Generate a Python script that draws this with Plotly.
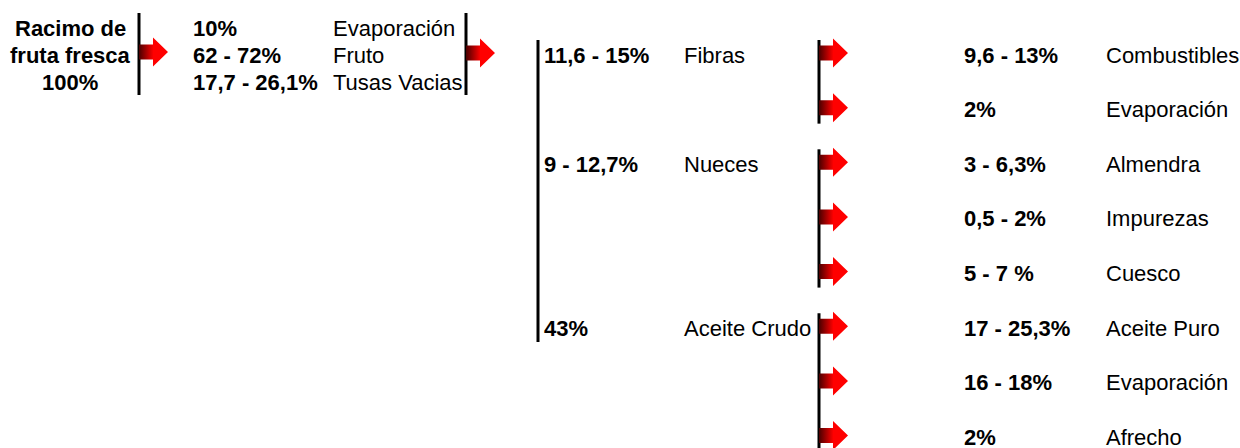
import plotly.graph_objects as go

# ---------------- data ----------------
stage1_text = ["Racimo de", "fruta fresca", "100%"]
stage2_pct = ["10%", "62 - 72%", "17,7 - 26,1%"]
stage2_labels = ["Evaporación", "Fruto", "Tusas Vacias"]
stage3_pct = ["11,6 - 15%", "9 - 12,7%", "43%"]
stage3_labels = ["Fibras", "Nueces", "Aceite Crudo"]
stage4_pct = ["9,6 - 13%", "2%", "3 - 6,3%", "0,5 - 2%", "5 - 7 %",
              "17 - 25,3%", "16 - 18%", "2%"]
stage4_labels = ["Combustibles", "Evaporación", "Almendra", "Impurezas", "Cuesco",
                 "Aceite Puro", "Evaporación", "Afrecho"]
stage4_parent = [0, 0, 1, 1, 1, 2, 2, 2]

# ---------------- layout constants ----------------
W, H = 1240, 448
FONT = "Liberation Sans, Arial, sans-serif"
FS = 22
ROW0, ROWSTEP = 55, 54.65
TOP_ROWS = [28, 55, 82]

def row_y(i):
    return ROW0 + ROWSTEP * i

fig = go.Figure()
annotations = []
shapes = []

def text(x, y, s, bold=False, anchor="left"):
    annotations.append(dict(
        x=x, y=y, xref="x", yref="y", text=f"<b>{s}</b>" if bold else s,
        showarrow=False, xanchor=anchor, yanchor="middle", borderpad=0,
        font=dict(family=FONT, size=FS, color="black")))

def vline(x, y0, y1):
    shapes.append(dict(type="line", x0=x, x1=x, y0=y0, y1=y1, xref="x", yref="y",
                       line=dict(color="black", width=3), layer="below"))

def arrow(x0, yc):
    xs, tip = x0 + 14, x0 + 29
    sh, hh = 7.5, 14.5
    xsv = [x0, xs, xs, tip, xs, xs, x0, x0]
    ysv = [yc - sh, yc - sh, yc - hh, yc, yc + hh, yc + sh, yc + sh, yc - sh]
    fig.add_trace(go.Scatter(
        x=xsv, y=ysv, mode="none", fill="toself",
        fillgradient=dict(type="horizontal",
                          colorscale=[[0, "#4a0000"], [0.5, "#ff0000"], [1, "#ff0000"]]),
        hoverinfo="skip", showlegend=False))

# stage 1
for i, s in enumerate(stage1_text):
    text(70, TOP_ROWS[i], s, bold=True, anchor="center")
vline(139, 13, 95)
arrow(139, 52)

# stage 2
for i in range(len(stage2_pct)):
    text(192, TOP_ROWS[i], stage2_pct[i], bold=True)
    text(332, TOP_ROWS[i], stage2_labels[i])
vline(466, 13, 95)
arrow(466, 53)

# stage 3
child_rows = {}
for k, p in enumerate(stage4_parent):
    child_rows.setdefault(p, []).append(k)
vline(538, 40, 342)
for p in range(len(stage3_pct)):
    first = child_rows[p][0]
    text(543, row_y(first), stage3_pct[p], bold=True)
    text(683, row_y(first), stage3_labels[p])
    rows = child_rows[p]
    vline(819, row_y(rows[0]) - 15, row_y(rows[-1]) + 14)

# stage 4
for k in range(len(stage4_pct)):
    arrow(819, row_y(k) - 2)
    text(963, row_y(k), stage4_pct[k], bold=True)
    text(1105, row_y(k), stage4_labels[k])

fig.update_layout(
    width=W, height=H, margin=dict(l=0, r=0, t=0, b=0),
    paper_bgcolor="white", plot_bgcolor="white",
    xaxis=dict(range=[0, W], visible=False, fixedrange=True),
    yaxis=dict(range=[H, 0], visible=False, fixedrange=True),
    annotations=annotations, shapes=shapes, showlegend=False,
)
fig.write_html(
    "out.html",
    config={"displayModeBar": False},
    post_script="document.body.style.margin='0';document.body.style.padding='0';"
                "document.body.style.overflow='hidden';",
)
